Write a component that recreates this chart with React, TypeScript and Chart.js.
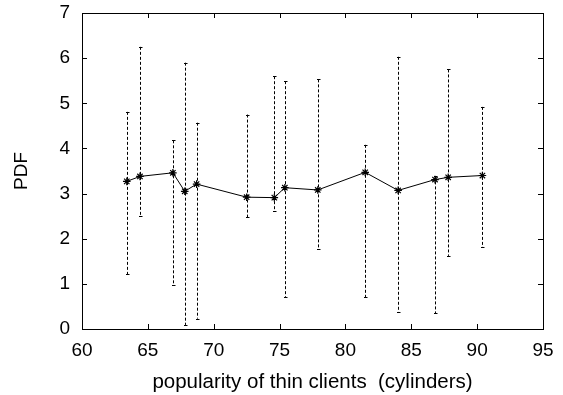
import { useEffect, useRef } from "react";
import { Chart, registerables } from "chart.js";
Chart.register(...registerables);

const xValues = [63.4, 64.4, 66.9, 67.8, 68.7, 72.5, 74.6, 75.4, 77.9, 81.5, 84.0, 86.8, 87.8, 90.4];
const yValues = [3.27, 3.38, 3.46, 3.05, 3.21, 2.92, 2.91, 3.13, 3.08, 3.47, 3.07, 3.31, 3.36, 3.40];
const yUpper = [4.81, 6.25, 4.18, 5.90, 4.57, 4.75, 5.60, 5.49, 5.53, 4.08, 6.03, 3.38, 5.75, 4.92];
const yLower = [1.21, 2.51, 0.98, 0.09, 0.23, 2.47, 2.62, 0.71, 1.77, 0.70, 0.38, 0.35, 1.62, 1.81];
const xTicks = [60, 65, 70, 75, 80, 85, 90, 95];
const yTicks = [0, 1, 2, 3, 4, 5, 6, 7];
const xTitle = "popularity of thin clients  (cylinders)";
const yTitle = "PDF";

const framePlugin = {
  id: "frame",
  beforeDatasetsDraw(chart: any) {
    const { ctx, chartArea, scales } = chart;
    const { left, right, top, bottom } = chartArea;
    ctx.save();
    ctx.strokeStyle = "#000";
    ctx.lineWidth = 1;
    ctx.setLineDash([]);
    ctx.strokeRect(Math.round(left) + 0.5, Math.round(top) + 0.5, Math.round(right - left), Math.round(bottom - top));
    const tl = 5;
    ctx.beginPath();
    xTicks.forEach((v) => {
      const px = Math.round(scales.x.getPixelForValue(v)) + 0.5;
      ctx.moveTo(px, bottom);
      ctx.lineTo(px, bottom - tl);
      ctx.moveTo(px, top);
      ctx.lineTo(px, top + tl);
    });
    yTicks.forEach((v) => {
      const py = Math.round(scales.y.getPixelForValue(v)) + 0.5;
      ctx.moveTo(left, py);
      ctx.lineTo(left + tl, py);
      ctx.moveTo(right, py);
      ctx.lineTo(right - tl, py);
    });
    ctx.stroke();
    // error bars
    ctx.setLineDash([3, 2]);
    ctx.beginPath();
    xValues.forEach((x, i) => {
      const px = Math.round(scales.x.getPixelForValue(x)) + 0.5;
      ctx.moveTo(px, scales.y.getPixelForValue(yUpper[i]));
      ctx.lineTo(px, scales.y.getPixelForValue(yLower[i]));
    });
    ctx.stroke();
    ctx.setLineDash([]);
    ctx.beginPath();
    xValues.forEach((x, i) => {
      const px = Math.round(scales.x.getPixelForValue(x)) + 0.5;
      const pu = Math.round(scales.y.getPixelForValue(yUpper[i])) + 0.5;
      const pl = Math.round(scales.y.getPixelForValue(yLower[i])) + 0.5;
      ctx.moveTo(px - 1.5, pu);
      ctx.lineTo(px + 2, pu);
      ctx.moveTo(px - 1.5, pl);
      ctx.lineTo(px + 2, pl);
    });
    ctx.stroke();
    ctx.restore();
  },
};

export default function App() {
  const ref = useRef<HTMLCanvasElement>(null);
  useEffect(() => {
    if (!ref.current) return;
    const family = "'Liberation Sans', Arial, sans-serif";
    const font = { family, size: 19 };
    const titleFont = { family, size: 20.5 };
    const chart = new Chart(ref.current, {
      type: "scatter",
      data: {
        datasets: [
          {
            data: xValues.map((x, i) => ({ x, y: yValues[i] })),
            showLine: true,
            borderColor: "#000",
            backgroundColor: "#000",
            borderWidth: 1,
            pointStyle: "star",
            pointRadius: 3.8,
            pointBorderWidth: 1.2,
            pointBorderColor: "#000",
          },
        ],
      },
      options: {
        animation: false,
        responsive: false,
        events: [],
        layout: { padding: { top: 13, right: 20, left: 0, bottom: 0 } },
        plugins: { legend: { display: false }, tooltip: { enabled: false } },
        scales: {
          x: {
            type: "linear",
            min: 60,
            max: 95,
            afterBuildTicks: (s: any) => {
              s.ticks = xTicks.map((v) => ({ value: v }));
            },
            afterFit: (s: any) => {
              s.height = 66;
              s.paddingLeft = 0;
              s.paddingRight = 0;
            },
            grid: { display: false, drawTicks: false },
            border: { display: false },
            ticks: { color: "#000", font, padding: 10, maxRotation: 0 },
            title: { display: true, text: xTitle, color: "#000", font: titleFont, padding: { top: 0, bottom: 0 } },
          },
          y: {
            type: "linear",
            min: 0,
            max: 7,
            afterBuildTicks: (s: any) => {
              s.ticks = yTicks.map((v) => ({ value: v }));
            },
            afterFit: (s: any) => {
              s.width = 82;
              s.paddingTop = 0;
              s.paddingBottom = 0;
            },
            grid: { display: false, drawTicks: false },
            border: { display: false },
            ticks: { color: "#000", font, padding: 12 },
            title: { display: true, text: yTitle, color: "#000", font, padding: { top: 10, bottom: 0 } },
          },
        },
      },
      plugins: [framePlugin],
    } as any);
    return () => chart.destroy();
  }, []);
  return (
    <div style={{ position: "fixed", left: 0, top: 0, width: 563, height: 395, background: "#fff" }}>
      <canvas ref={ref} width={563} height={395} style={{ display: "block" }} />
    </div>
  );
}
